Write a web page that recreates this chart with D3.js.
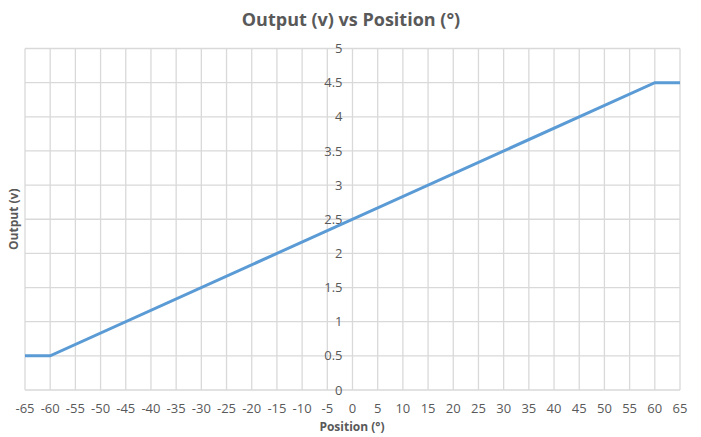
<!DOCTYPE html>
<html><head><meta charset="utf-8">
<script src="https://cdn.jsdelivr.net/npm/d3@7"></script>
<style>body{margin:0;background:#fff;} text{font-family:"Open Sans","Noto Sans",sans-serif;}</style>
</head><body>
<svg id="c" width="701" height="437"></svg>
<script>
const positions = [-65, -60, 60, 65];
const outputs = [0.5, 0.5, 4.5, 4.5];
const xTicks = d3.range(-65, 66, 5);
const yTicks = [0, 0.5, 1, 1.5, 2, 2.5, 3, 3.5, 4, 4.5, 5];
const titleText = "Output (v) vs Position (°)";
const xTitle = "Position (°)";
const yTitle = "Output (v)";

const svg = d3.select("#c");
const L = 25, R = 680, T = 48.5, B = 390;
const x = d3.scaleLinear().domain([-65, 65]).range([L, R]);
const y = d3.scaleLinear().domain([0, 5]).range([B, T]);
const grid = "#d9d9d9", txt = "#595959";

svg.append("g").selectAll("line").data(xTicks).join("line")
  .attr("x1", d => x(d)).attr("x2", d => x(d)).attr("y1", T).attr("y2", B)
  .attr("stroke", grid).attr("stroke-width", 1.3);
svg.append("g").selectAll("line").data(yTicks).join("line")
  .attr("x1", L).attr("x2", R).attr("y1", d => y(d)).attr("y2", d => y(d))
  .attr("stroke", grid).attr("stroke-width", 1.3);

svg.append("g").selectAll("text").data(xTicks).join("text")
  .attr("x", d => x(d)).attr("y", 413).attr("text-anchor", "middle")
  .attr("font-size", 13).attr("fill", txt).text(d => d);

svg.append("g").selectAll("text").data(yTicks).join("text")
  .attr("x", x(0) - 10).attr("y", d => y(d)).attr("dy", "0.35em").attr("text-anchor", "end")
  .attr("font-size", 13).attr("fill", txt).text(d => d);

svg.append("path").datum(positions.map((p, i) => [p, outputs[i]]))
  .attr("d", d3.line().x(d => x(d[0])).y(d => y(d[1])))
  .attr("fill", "none").attr("stroke", "#5b9bd5").attr("stroke-width", 3);

svg.append("text").attr("x", 351).attr("y", 26).attr("text-anchor", "middle")
  .attr("font-size", 18).attr("font-weight", "bold").attr("fill", txt).text(titleText);
svg.append("text").attr("x", 352).attr("y", 431).attr("text-anchor", "middle")
  .attr("font-size", 12).attr("font-weight", "bold").attr("fill", txt).text(xTitle);
svg.append("text").attr("transform", `translate(18,${(T + B) / 2}) rotate(-90)`).attr("text-anchor", "middle")
  .attr("font-size", 12).attr("font-weight", "bold").attr("fill", txt).text(yTitle);
</script>
</body></html>
